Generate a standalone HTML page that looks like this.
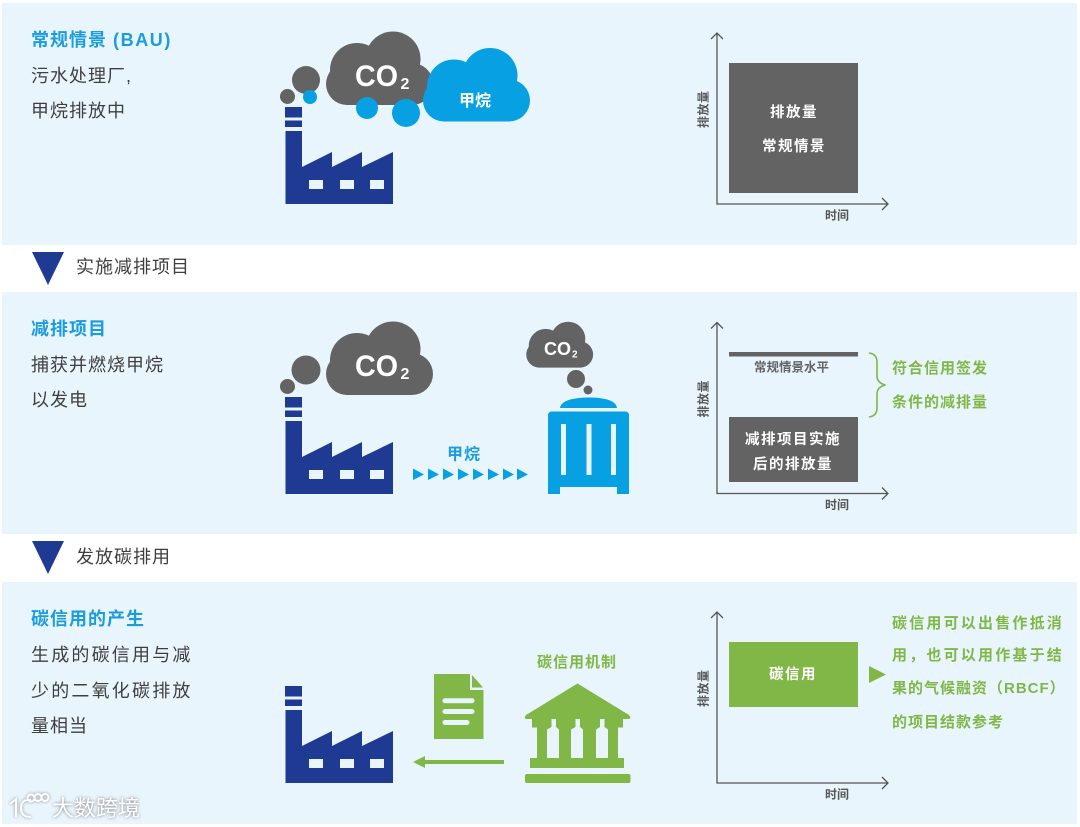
<!DOCTYPE html>
<html lang="zh"><head><meta charset="utf-8"><style>
html,body{margin:0;padding:0;background:#fff;width:1080px;height:827px;overflow:hidden}
svg{display:block;filter:blur(.35px)}
text{font-family:"Liberation Sans","Noto Sans CJK SC",sans-serif}
.h{font-size:18px;font-weight:700;fill:#1b9cdc;letter-spacing:1px}
.b{font-size:18px;fill:#3f3f3f;letter-spacing:1px}
.b3{font-size:18px;fill:#3f3f3f;letter-spacing:2.2px}
.ax{font-size:12px;font-weight:700;fill:#555}
.w{font-size:14.5px;font-weight:700;fill:#fff;letter-spacing:1.5px;text-anchor:middle}
.g{font-size:15px;font-weight:700;fill:#80b746;letter-spacing:1px}
.g2{font-size:15px;font-weight:700;fill:#80b746;letter-spacing:2.2px}
.axl{fill:none;stroke:#555;stroke-width:1.3}
</style></head><body>
<svg width="1080" height="827" viewBox="0 0 1080 827" xmlns="http://www.w3.org/2000/svg">
<defs>
<g id="factory" fill="#1f3a93">
<rect x="285" y="107" width="17" height="10.500"/>
<rect x="285" y="120.500" width="17" height="6.500"/>
<path d="M285.500 131H302V167L332 152V167L362 152V167L393 152V204H285.500Z"/>
<g fill="#e9f5fd"><rect x="309" y="180" width="14" height="9"/><rect x="340" y="180" width="14" height="9"/><rect x="370" y="180" width="14" height="9"/></g>
</g>
<g id="cloud">
<circle cx="393" cy="59" r="27.500"/><circle cx="357" cy="70" r="27"/><circle cx="347" cy="84" r="21"/><circle cx="412" cy="84" r="21"/>
<rect x="347" y="70" width="65" height="35"/>
</g>
<g id="axes">
<path class="axl" d="M717 33V204H888M711 39L717 33L723 39M882 198L888 204L882 210"/>
<text class="ax" x="825" y="219.500">时间</text>
<text class="ax" transform="translate(707.500 128) rotate(-90)" letter-spacing=".5">排放量</text>
</g>
<g id="co2t" fill="#fff" font-weight="700">
<text x="355" y="86" font-size="30" textLength="43" lengthAdjust="spacingAndGlyphs">CO</text><text x="400.500" y="89" font-size="16">2</text>
</g>
</defs>

<rect x="2" y="3" width="1075" height="242" fill="#e9f5fd"/>
<rect x="2" y="292" width="1075" height="242" fill="#e9f5fd"/>
<rect x="2" y="582" width="1075" height="242" fill="#e9f5fd"/>

<!-- Row 1 -->
<text class="h" x="31" y="46">常规情景 <tspan letter-spacing="1.6">(BAU)</tspan></text>
<text class="b" x="31" y="82">污水处理厂,</text>
<text class="b" x="31" y="117">甲烷排放中</text>
<use href="#factory"/>
<g fill="#636363"><circle cx="306" cy="80" r="14"/><circle cx="287.500" cy="96.500" r="7.500"/><use href="#cloud"/></g>
<g fill="#07a0e3"><circle cx="310" cy="97" r="7"/><circle cx="367" cy="108" r="11"/><circle cx="406" cy="113" r="14"/>
<use href="#cloud" transform="translate(97 16.500)"/></g>
<use href="#co2t"/>
<text x="459" y="106" font-size="16" font-weight="700" fill="#fff">甲烷</text>
<use href="#axes"/>
<rect x="729" y="63" width="129" height="130" fill="#636363"/>
<text class="w" x="794" y="117">排放量</text>
<text class="w" x="794" y="151">常规情景</text>

<!-- Divider 1 -->
<path d="M32 252H64L48 285Z" fill="#1f3a93"/>
<text class="b" x="76" y="273">实施减排项目</text>

<!-- Row 2 -->
<text class="h" x="31" y="335">减排项目</text>
<text class="b" x="31" y="371">捕获并燃烧甲烷</text>
<text class="b" x="31" y="406">以发电</text>
<g transform="translate(0 290)"><use href="#factory"/>
<g fill="#636363"><circle cx="306" cy="80" r="14.500"/><circle cx="287.500" cy="96.500" r="7.500"/></g></g>
<g fill="#636363"><use href="#cloud" transform="translate(0 290)"/></g>
<use href="#co2t" transform="translate(0 290)"/>
<g fill="#636363">
<use href="#cloud" transform="translate(322.500 302) scale(.625)"/>
<circle cx="576" cy="379" r="9"/><circle cx="588" cy="390" r="4.500"/></g>
<g fill="#fff" font-weight="700"><text x="544" y="355" font-size="18.500" textLength="27" lengthAdjust="spacingAndGlyphs">CO</text><text x="572" y="357.500" font-size="10">2</text></g>
<path d="M560 408C561 400 575 397.500 589 397.500C603 397.500 616 400 617 408Z" fill="#07a0e3"/>
<path d="M552 411.500H625Q629 411.500 629 415.500V494H617V487H560V494H548V415.500Q548 411.500 552 411.500Z" fill="#07a0e3"/>
<g fill="#e9f5fd"><rect x="561" y="424" width="5" height="51"/><rect x="586.500" y="424" width="5" height="51"/><rect x="611" y="424" width="5" height="51"/></g>
<text x="447" y="459.500" font-size="16" font-weight="700" fill="#1b9cdc" letter-spacing="1">甲烷</text>
<g fill="#07a0e3">
<path d="M413 468.500L424 474.500L413 480Z"/><path d="M428 468.500L439 474.500L428 480Z"/><path d="M443 468.500L454 474.500L443 480Z"/><path d="M458 468.500L469 474.500L458 480Z"/>
<path d="M473 468.500L484 474.500L473 480Z"/><path d="M488 468.500L499 474.500L488 480Z"/><path d="M503 468.500L514 474.500L503 480Z"/><path d="M517 468.500L528 474.500L517 480Z"/></g>
<use href="#axes" transform="translate(0 289.500)"/>
<rect x="729" y="352" width="129" height="4.500" fill="#636363"/>
<text x="754" y="371.500" font-size="12.500" font-weight="700" fill="#636363">常规情景水平</text>
<rect x="729" y="417" width="129" height="65" fill="#636363"/>
<text class="w" x="793" y="444">减排项目实施</text>
<text class="w" x="793" y="469">后的排放量</text>
<path d="M869 353Q877 354 877 362V376Q877 383 885.500 385Q877 387 877 394V408Q877 416 869 417" fill="none" stroke="#80b746" stroke-width="1.600"/>
<text class="g" x="892" y="373">符合信用签发</text>
<text class="g" x="892" y="407">条件的减排量</text>

<!-- Divider 2 -->
<path d="M32 541H64L48 574Z" fill="#1f3a93"/>
<text class="b" x="76" y="563">发放碳排用</text>

<!-- Row 3 -->
<text class="h" x="31" y="625">碳信用的产生</text>
<text class="b3" x="31" y="661">生成的碳信用与减</text>
<text class="b3" x="31" y="697">少的二氧化碳排放</text>
<text class="b" x="31" y="732">量相当</text>
<use href="#factory" transform="translate(0 579)"/>
<text x="537" y="667" font-size="15" font-weight="700" fill="#80b746" letter-spacing="1">碳信用机制</text>
<path d="M434 674H470V690H483.500V739H434Z" fill="#80b746"/>
<path d="M472 675L483 687.500H472Z" fill="#80b746"/>
<g stroke="#e9f5fd" stroke-width="5" stroke-linecap="round"><path d="M445 700.700H472M445 711.500H472M445 722.500H467"/></g>
<path d="M504 760V764H425V768L413 762L425 756V760Z" fill="#80b746"/>
<path d="M577.500 683.500L629 715Q632 719 628 719H527Q523 719 526 715Z" fill="#80b746"/>
<path d="M532 719H623V727.500H618V758H624V768H530V758H537V727.500H532Z" fill="#80b746"/>
<g fill="#e9f5fd">
<path d="M551.500 719H556V727L559 729.500V758H547V729.500L551.500 727Z"/>
<path d="M575.500 719H580V727L583 729.500V758H571V729.500L575.500 727Z"/>
<path d="M600 719H604.500V727L608 729.500V758H596V729.500L600 727Z"/></g>
<rect x="525" y="774" width="105.500" height="9" rx="2" fill="#80b746"/>
<use href="#axes" transform="translate(0 579)"/>
<rect x="729" y="642" width="129" height="65" fill="#80b746"/>
<text class="w" x="793" y="679">碳信用</text>
<path d="M869 666L886 674.500L869 683Z" fill="#80b746"/>
<text class="g2" x="892" y="628">碳信用可以出售作抵消</text>
<text class="g2" x="892" y="660">用，也可以用作基于结</text>
<text class="g" x="892" y="693">果的气候融资（RBCF）</text>
<text class="g" x="892" y="727" letter-spacing="1.500">的项目结款参考</text>

<!-- Watermark -->
<g fill="none" stroke="#fff" stroke-width="2" opacity=".95" style="filter:drop-shadow(0 0 1.500px #8a8a8a)">
<path d="M10 804L16 799V817M31 800Q21 799 21 808Q21 817 31 817"/>
<circle cx="31" cy="798" r="3.500"/><circle cx="38" cy="797.500" r="3.500"/><circle cx="45" cy="797.500" r="3.500"/>
</g>
<text x="52" y="816" font-size="22" fill="#fff" style="filter:drop-shadow(0 0 1.500px #777)">大数跨境</text>
</svg>
</body></html>
